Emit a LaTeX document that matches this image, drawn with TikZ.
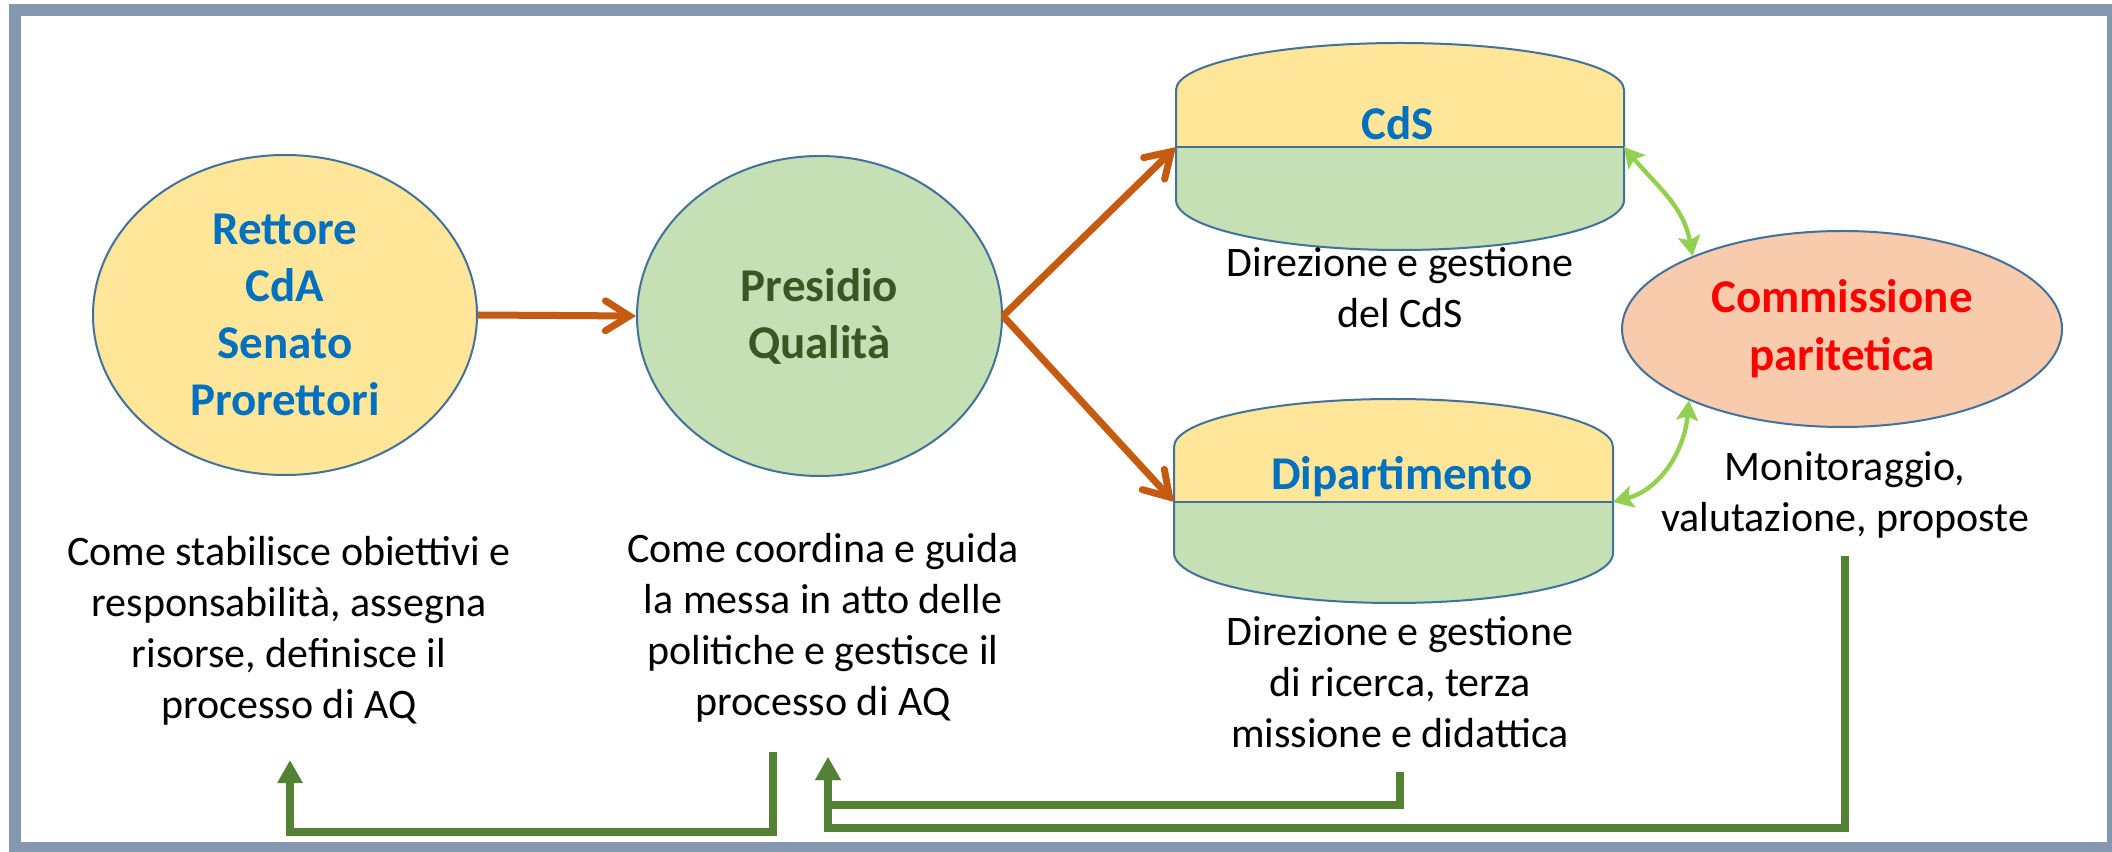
\documentclass[tikz,border=0pt]{standalone}
\usepackage{fontspec}
\setmainfont{Carlito}
\usetikzlibrary{arrows.meta,shapes.geometric}
\definecolor{framec}{HTML}{8497B0}
\definecolor{yel}{HTML}{FFE699}
\definecolor{grn}{HTML}{C5E0B4}
\definecolor{sal}{HTML}{F8CBAD}
\definecolor{outlc}{HTML}{41719C}
\definecolor{bluetxt}{HTML}{0070C0}
\definecolor{dkgrntxt}{HTML}{385723}
\definecolor{orng}{HTML}{C55A11}
\definecolor{lgrn}{HTML}{92D050}
\definecolor{fbgrn}{HTML}{548235}
\begin{document}
\begin{tikzpicture}[x=0.5pt,y=0.5pt,
  outl/.style={draw=outlc, line width=1pt},
  oval/.style={ellipse, outl, inner sep=0pt},
  boldtxt/.style={font=\fontsize{23.5}{28.5}\selectfont\bfseries, align=center},
  desc/.style={font=\fontsize{21}{25.5}\selectfont, align=center, inner sep=0pt, anchor=base},
  orarrow/.style={draw=orng, line width=3.5pt, -{Straight Barb[length=12pt,width=15pt,line cap=round]}},
  bidir/.style={draw=lgrn, line width=2.2pt, {Stealth[length=10pt,width=11pt,inset=2pt]}-{Stealth[length=10pt,width=11pt,inset=2pt]}},
  fb/.style={draw=fbgrn, line width=3.75pt},
  fbarrow/.style={fb, -{Triangle[length=11.5pt,width=12pt]}}
]
\useasboundingbox (0,0) rectangle (2112,851);
\clip (0,0) rectangle (2112,851);
\fill[white] (0,0) rectangle (2112,851);
\draw[draw=framec, line width=6pt] (15,3) rectangle (2113,841);

% ellipses
\node[oval, fill=yel, minimum width=192pt, minimum height=160pt, text=bluetxt, boldtxt] (r) at (285,536) {Rettore\\CdA\\Senato\\Prorettori};
\node[oval, fill=grn, minimum width=182.5pt, minimum height=160pt, text=dkgrntxt, boldtxt] (p) at (819.5,535) {Presidio\\Qualità};
\node[oval, fill=sal, minimum width=220pt, minimum height=98pt, text=red, boldtxt, font=\fontsize{23.5}{29}\selectfont\bfseries] (cp) at (1842,522) {Commissione\\paritetica};

% CdS cylinder
\fill[yel] (1176,704) -- (1176,761) arc[start angle=180,end angle=0,x radius=112pt,y radius=23.5pt] -- (1624,704) -- cycle;
\fill[grn] (1176,704) -- (1176,651) arc[start angle=180,end angle=360,x radius=112pt,y radius=25pt] -- (1624,704) -- cycle;
\draw[outl] (1176,651) -- (1176,761) arc[start angle=180,end angle=0,x radius=112pt,y radius=23.5pt] -- (1624,651) arc[start angle=0,end angle=-180,x radius=112pt,y radius=25pt] -- cycle;
\coordinate (cdsW) at (1176,704);
\coordinate (cdsE) at (1624,704);
\draw[outl] (cdsW) -- (cdsE);
\node[boldtxt, text=bluetxt, anchor=base, inner sep=0pt] (cdsl) at (1398,711) {CdS};

% Dipartimento cylinder
\fill[yel] (1174,349) -- (1174,404) arc[start angle=180,end angle=0,x radius=109.75pt,y radius=24pt] -- (1613,349) -- cycle;
\fill[grn] (1174,349) -- (1174,298) arc[start angle=180,end angle=360,x radius=109.75pt,y radius=25pt] -- (1613,349) -- cycle;
\draw[outl] (1174,298) -- (1174,404) arc[start angle=180,end angle=0,x radius=109.75pt,y radius=24pt] -- (1613,298) arc[start angle=0,end angle=-180,x radius=109.75pt,y radius=25pt] -- cycle;
\coordinate (dipW) at (1174,349);
\coordinate (dipE) at (1613,349);
\draw[outl] (dipW) -- (dipE);
\node[boldtxt, text=bluetxt, anchor=base, inner sep=0pt] (dipl) at (1402,361) {Dipartimento};

% descriptions (anchor base = last line baseline)
\node[desc] (t1) at (289,133) {Come stabilisce obiettivi e\\responsabilità, assegna\\risorse, definisce il\\processo di AQ};
\node[desc] (t2) at (823,136) {Come coordina e guida\\la messa in atto delle\\politiche e gestisce il\\processo di AQ};
\node[desc] (t3) at (1400,523) {Direzione e gestione\\del CdS};
\node[desc] (t4) at (1400,104) {Direzione e gestione\\di ricerca, terza\\missione e didattica};
\node[desc] (t5) at (1845,319) {Monitoraggio,\\valutazione, proposte};

% connectors
\draw[orarrow] (r.east) -- (p.west);
\draw[orarrow] (p.east) -- (cdsW);
\draw[orarrow] (p.east) -- (dipW);
\draw[bidir] (cdsE) to[out=-50, in=100] (cp.154);
\draw[bidir] (cp.205) to[out=-95, in=15] (dipE);

% feedback lines
\coordinate (fbA) at (773,99);
\coordinate (fbAend) at (290,91);
\coordinate (fbB1) at (1400,79);
\coordinate (fbB2) at (1845,295);
\coordinate (fbBend) at (828,94);
\draw[fbarrow] (fbA) -- ++(0,-80) -| (fbAend);
\draw[fbarrow] (fbB1) -- ++(0,-33) -| (fbBend);
\draw[fbarrow] (fbB2) -- ++(0,-272) -| (fbBend);
\end{tikzpicture}
\end{document}
